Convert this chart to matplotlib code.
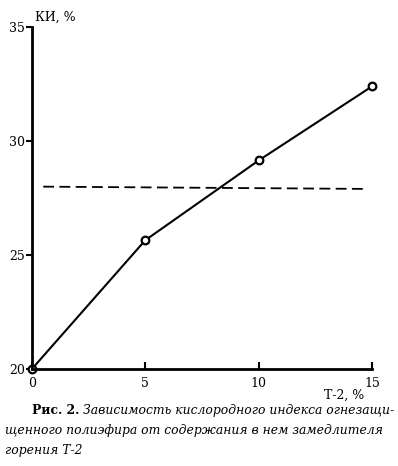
import matplotlib.pyplot as plt

t2 = [0, 5, 10, 15]
ki = [20.0, 25.65, 29.15, 32.4]
limit_x = [0.5, 14.8]
limit_y = [28.0, 27.9]

plt.rcParams["font.family"] = "DejaVu Serif"

fig = plt.figure(figsize=(3.98, 4.66), dpi=100)
ax = fig.add_axes([0.080, 0.208, 0.855, 0.734])

ax.plot(t2, ki, color="black", lw=1.5, marker="o", ms=5.5, mfc="white", mew=1.6, clip_on=False)
ax.plot(limit_x, limit_y, color="black", lw=1.3, dashes=(6, 3))

ax.set_xlim(0, 15)
ax.set_ylim(20, 35)
ax.set_xticks([0, 5, 10, 15])
ax.set_yticks([20, 25, 30, 35])
ax.spines["top"].set_visible(False)
ax.spines["right"].set_visible(False)
ax.spines["left"].set_linewidth(2)
ax.spines["bottom"].set_linewidth(2)
ax.tick_params(axis="x", direction="in", length=5, width=1.5, labelsize=9, pad=6)
ax.tick_params(axis="y", direction="out", length=4, width=1.5, labelsize=9, pad=1)

fig.text(0.088, 0.962, "КИ, %", fontsize=9, ha="left", va="center")
fig.text(0.915, 0.151, "Т-2, %", fontsize=9, ha="right", va="center")

# подпись к рисунку
cap = 8.9
bold = fig.text(0.080, 0.120, "Рис. 2. ", fontsize=cap, fontweight="bold", ha="left", va="center")
fig.canvas.draw()
bb = bold.get_window_extent().transformed(fig.transFigure.inverted())
fig.text(bb.x1, 0.120, "Зависимость кислородного индекса огнезащи-",
         fontsize=cap, style="italic", ha="left", va="center")
fig.text(0.012, 0.077, "щенного полиэфира от содержания в нем замедлителя",
         fontsize=cap, style="italic", ha="left", va="center")
fig.text(0.012, 0.034, "горения Т-2", fontsize=cap, style="italic", ha="left", va="center")

fig.savefig("out.png", dpi=100)
